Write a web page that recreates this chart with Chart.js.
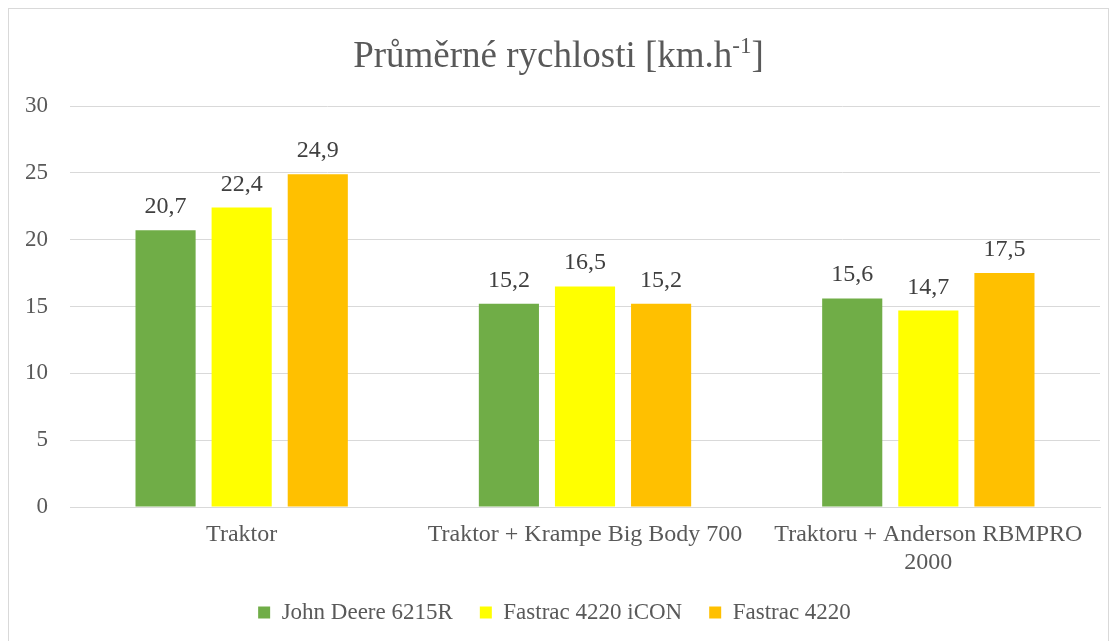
<!DOCTYPE html>
<html>
<head>
<meta charset="utf-8">
<script src="https://cdn.jsdelivr.net/npm/chart.js@4"></script>
<style>
  body { margin: 0; background: #fff; }
  #wrap { position: absolute; left: 8px; top: 8px; width: 1099px; height: 640px; border: 1px solid #d9d9d9; }
</style>
</head>
<body>
<div id="wrap"><canvas id="speedChart" width="1099" height="640"></canvas></div>
<script>
var categories = ["Traktor", "Traktor + Krampe Big Body 700", ["Traktoru + Anderson RBMPRO", "2000"]];
var seriesNames = ["John Deere 6215R", "Fastrac 4220 iCON", "Fastrac 4220"];
var johnDeere = [20.7, 15.2, 15.6];
var fastracIcon = [22.4, 16.5, 14.7];
var fastrac = [24.9, 15.2, 17.5];
var yTicks = [0, 5, 10, 15, 20, 25, 30];

var fontFamily = "'Liberation Serif', 'Times New Roman', serif";
var textColor = "#595959";

// value labels above the bars, with decimal comma
var barLabels = {
    id: "barLabels",
    afterDatasetsDraw: function (chart) {
        var ctx = chart.ctx;
        ctx.save();
        ctx.font = "24px " + fontFamily;
        ctx.fillStyle = "#404040";
        ctx.textAlign = "center";
        ctx.textBaseline = "alphabetic";
        chart.data.datasets.forEach(function (ds, i) {
            chart.getDatasetMeta(i).data.forEach(function (bar, j) {
                ctx.fillText(ds.data[j].toFixed(1).replace(".", ","), bar.x, bar.y - 17);
            });
        });
        ctx.restore();
    }
};

// title with superscript
var titleSup = {
    id: "titleSup",
    afterDraw: function (chart) {
        var ctx = chart.ctx;
        var main = "Průměrné rychlosti [km.h";
        var sup = "-1";
        var end = "]";
        var big = "37px " + fontFamily;
        var small = "23px " + fontFamily;
        ctx.save();
        ctx.fillStyle = textColor;
        ctx.textBaseline = "alphabetic";
        ctx.textAlign = "left";
        ctx.font = big;
        var w1 = ctx.measureText(main).width;
        var w3 = ctx.measureText(end).width;
        ctx.font = small;
        var w2 = ctx.measureText(sup).width;
        var x = chart.width / 2 - (w1 + w2 + w3) / 2;
        var y = 58;
        ctx.font = big;
        ctx.fillText(main, x, y);
        ctx.font = small;
        ctx.fillText(sup, x + w1, y - 14);
        ctx.font = big;
        ctx.fillText(end, x + w1 + w2, y);
        ctx.restore();
    }
};

var ctx = document.getElementById("speedChart").getContext("2d");
var chart = new Chart(ctx, {
    type: "bar",
    data: {
        labels: categories,
        datasets: [
            { label: seriesNames[0], data: johnDeere, backgroundColor: "#70ad47" },
            { label: seriesNames[1], data: fastracIcon, backgroundColor: "#ffff00" },
            { label: seriesNames[2], data: fastrac, backgroundColor: "#ffc000" }
        ]
    },
    options: {
        responsive: false,
        animation: false,
        layout: { padding: { top: 97, right: 8, left: 0, bottom: 15 } },
        categoryPercentage: 0.665,
        barPercentage: 0.79,
        plugins: {
            title: { display: false },
            tooltip: { enabled: false },
            legend: {
                position: "bottom",
                labels: {
                    color: textColor,
                    font: { family: fontFamily, size: 23 },
                    boxWidth: 12,
                    boxHeight: 12,
                    padding: 27,
                    usePointStyle: true,
                    pointStyle: "rect"
                }
            }
        },
        scales: {
            x: {
                grid: { display: false, drawTicks: false },
                border: { color: "#d9d9d9", width: 1 },
                ticks: {
                    color: textColor,
                    font: { family: fontFamily, size: 24, lineHeight: 1.17 },
                    padding: 14,
                    maxRotation: 0,
                    autoSkip: false
                },
                afterFit: function (scale) { scale.height = 67; }
            },
            y: {
                min: 0,
                max: 30,
                afterBuildTicks: function (scale) {
                    scale.ticks = yTicks.map(function (v) { return { value: v }; });
                },
                grid: { color: "#d9d9d9", drawTicks: false },
                border: { display: false },
                ticks: {
                    color: textColor,
                    font: { family: fontFamily, size: 23 },
                    padding: 22
                },
                afterFit: function (scale) { scale.width = 61; }
            }
        }
    },
    plugins: [barLabels, titleSup]
});
</script>
</body>
</html>
